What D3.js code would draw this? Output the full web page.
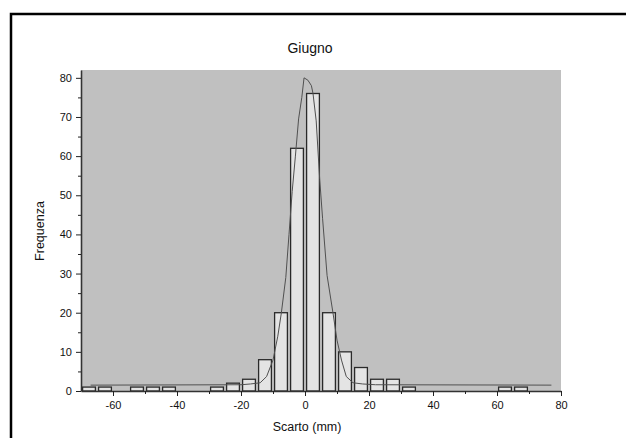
<!DOCTYPE html>
<html>
<head>
<meta charset="utf-8">
<script src="https://cdn.jsdelivr.net/npm/d3@7"></script>
<style>
body{margin:0;background:#fff;}
svg{display:block;font-family:"Liberation Sans",Arial,sans-serif;}
</style>
</head>
<body>
<script>
// bins of width 5 (centre), counts
var binCenters = [-67.5,-62.5,-52.5,-47.5,-42.5,-27.5,-22.5,-17.5,-12.5,-7.5,-2.5,2.5,7.5,12.5,17.5,22.5,27.5,32.5,62.5,67.5];
var counts     = [1,1,1,1,1,1,2,3,8,20,62,76,20,10,6,3,3,1,1,1];

// fitted curve
var fitX = [-67,-20,-17,-14,-12,-10,-8.5,-7.4,-6,-5,-4,-3,-2,-1,-0.3,0.9,2,2.5,3.5,4.6,5.5,6.9,8.75,10,11.4,12.9,15,18,22,77];
var fitY = [1.5,1.6,1.8,2.1,3.7,7.9,14,19.9,29,40,51,60,69.5,75,80,79.4,78,76,69,54,44,29.5,19.9,13,7.9,3.7,2.1,1.8,1.6,1.5];

var xTicks = [-60,-40,-20,0,20,40,60,80];
var yTicks = [0,10,20,30,40,50,60,70,80];

var width = 626, height = 438;
var margin = {left:81,right:65,top:70,bottom:47};
var binWidth = 5;

var svg = d3.select("body").append("svg").attr("width",width).attr("height",height);

// outer frame
svg.append("path").attr("d","M11,"+(height+5)+"V14H"+(width+5))
	.attr("fill","none").attr("stroke","#000").attr("stroke-width",2.5);

var x = d3.scaleLinear().domain([-70,80]).range([margin.left,width-margin.right]);
var y = d3.scaleLinear().domain([0,82]).range([height-margin.bottom,margin.top]);

svg.append("rect")
	.attr("x",x(-70)).attr("y",y(82))
	.attr("width",x(80)-x(-70)).attr("height",y(0)-y(82))
	.attr("fill","#c0c0c0");

// bars
svg.selectAll("rect.bar")
	.data(binCenters)
	.enter().append("rect")
		.attr("class","bar")
		.attr("x",function(d){ return x(d-binWidth*0.4); })
		.attr("y",function(d,i){ return y(counts[i]); })
		.attr("width",function(d){ return x(d+binWidth*0.4)-x(d-binWidth*0.4); })
		.attr("height",function(d,i){ return y(0)-y(counts[i]); })
		.attr("fill","#e4e4e4").attr("stroke","#2a2a2a").attr("stroke-width",1.3);

// fit line
var line = d3.line().x(function(d){ return x(d); }).y(function(d,i){ return y(fitY[i]); });
svg.append("path").attr("d",line(fitX))
	.attr("fill","none").attr("stroke","#505050").attr("stroke-width",1);

// axes (plain hyphen for negatives, like the original)
var fmt = function(d){ return String(d); };
var xAxis = svg.append("g").attr("transform","translate(0,"+y(0)+")")
	.call(d3.axisBottom(x).tickValues(xTicks).tickFormat(fmt).tickSize(5).tickSizeOuter(0));
svg.append("g").attr("transform","translate(0,"+y(0)+")")
	.call(d3.axisBottom(x).tickValues([-50,-30,-10,10,30,50,70]).tickFormat("").tickSize(3).tickSizeOuter(0))
	.select(".domain").remove();

var yAxis = svg.append("g").attr("transform","translate("+x(-70)+",0)")
	.call(d3.axisLeft(y).tickValues(yTicks).tickFormat(fmt).tickSize(5).tickSizeOuter(0));
svg.append("g").attr("transform","translate("+x(-70)+",0)")
	.call(d3.axisLeft(y).tickValues([5,15,25,35,45,55,65,75]).tickFormat("").tickSize(3).tickSizeOuter(0))
	.select(".domain").remove();

svg.selectAll(".domain").attr("stroke","#333").attr("stroke-width",1.6);
svg.selectAll(".tick line").attr("stroke","#222").attr("stroke-width",1);
xAxis.selectAll("text").attr("font-size",11).attr("fill","#111").attr("dy","0.95em").attr("font-family","Liberation Sans, Arial, sans-serif");
yAxis.selectAll("text").attr("font-size",11).attr("fill","#111").attr("dx","-0.1em").attr("font-family","Liberation Sans, Arial, sans-serif");

// titles
svg.append("text").attr("x",310).attr("y",53).attr("text-anchor","middle")
	.attr("font-size",14).attr("fill","#111").text("Giugno");
svg.append("text").attr("x",307).attr("y",431).attr("text-anchor","middle")
	.attr("font-size",12.5).attr("fill","#111").text("Scarto (mm)");
svg.append("text").attr("transform","translate(44,231) rotate(-90)").attr("text-anchor","middle")
	.attr("font-size",12.5).attr("fill","#111").text("Frequenza");
</script>
</body>
</html>
